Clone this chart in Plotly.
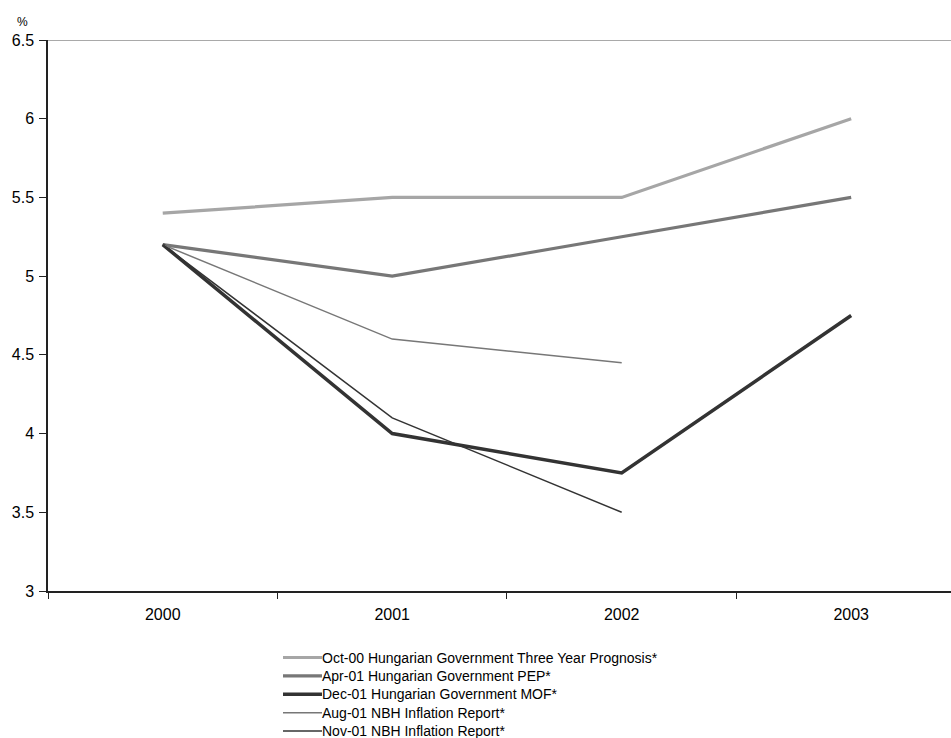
import plotly.graph_objects as go

years = ["2000", "2001", "2002", "2003"]

oct00_prognosis = [5.4, 5.5, 5.5, 6.0]
apr01_pep = [5.2, 5.0, 5.25, 5.5]
dec01_mof = [5.2, 4.0, 3.75, 4.75]
aug01_nbh = [5.2, 4.6, 4.45, None]
nov01_nbh = [5.2, 4.1, 3.5, None]

series = [
    ("Oct-00 Hungarian Government Three Year Prognosis*", oct00_prognosis, "#a6a6a6", 3.2),
    ("Apr-01 Hungarian Government PEP*", apr01_pep, "#777777", 3.2),
    ("Dec-01 Hungarian Government MOF*", dec01_mof, "#333333", 3.5),
    ("Aug-01 NBH Inflation Report*", aug01_nbh, "#777777", 1.5),
    ("Nov-01 NBH Inflation Report*", nov01_nbh, "#333333", 1.5),
]

W, H = 951, 738
ML, MT, MB, MR = 48, 40, 147, 0
PW, PH = W - ML - MR, H - MT - MB


def px_x(px):
    return (px - ML) / PW


def px_y(py):
    return (H - MB - py) / PH


fig = go.Figure()
for name, vals, color, width in series:
    fig.add_trace(go.Scatter(
        x=years, y=vals, name=name, mode="lines",
        line=dict(color=color, width=width),
        connectgaps=False, showlegend=False,
    ))

# top border of plot area
fig.add_shape(type="line", xref="paper", yref="y", x0=0, x1=1, y0=6.5, y1=6.5,
              line=dict(color="#8c8c8c", width=1.5), layer="below")

fig.add_annotation(text="%", xref="paper", yref="paper",
                   x=px_x(22), y=px_y(22),
                   showarrow=False, font=dict(size=12, color="#000"),
                   xanchor="center", yanchor="middle")

# legend below the chart: a key line and the series name per row
LEG_X0, LEG_X1, LEG_TOP, LEG_STEP = 283, 322, 657.5, 18.4
for i, (name, _vals, color, width) in enumerate(series):
    yy = px_y(LEG_TOP + i * LEG_STEP)
    fig.add_shape(type="line", xref="paper", yref="paper",
                  x0=px_x(LEG_X0), x1=px_x(LEG_X1), y0=yy, y1=yy,
                  line=dict(color=color, width=width))
    fig.add_annotation(text=name, xref="paper", yref="paper",
                       x=px_x(LEG_X1), y=yy, showarrow=False,
                       xanchor="left", yanchor="middle", xshift=-2,
                       font=dict(size=14, color="#000"))

fig.update_layout(
    width=W, height=H,
    margin=dict(l=ML, r=MR, t=MT, b=MB, autoexpand=False),
    paper_bgcolor="white", plot_bgcolor="white",
    font=dict(family="Liberation Sans, Arial, sans-serif", color="#000", size=16),
    showlegend=False,
    xaxis=dict(
        type="category", range=[-0.5, 3.435],
        showgrid=False, zeroline=False,
        showline=True, linecolor="#222", linewidth=1.5,
        ticks="outside", ticklen=6, tickcolor="#222", tickwidth=1,
        tickson="boundaries",
        tickfont=dict(size=16), ticklabelstandoff=8,
    ),
    yaxis=dict(
        range=[3, 6.5], tickvals=[3, 3.5, 4, 4.5, 5, 5.5, 6, 6.5],
        ticktext=["3", "3.5", "4", "4.5", "5", "5.5", "6", "6.5"],
        showgrid=False, zeroline=False,
        showline=True, linecolor="#222", linewidth=1.5,
        ticks="outside", ticklen=7, tickcolor="#222", tickwidth=1,
        tickfont=dict(size=16), ticklabelstandoff=2,
    ),
)

fig.write_html("out.html")
